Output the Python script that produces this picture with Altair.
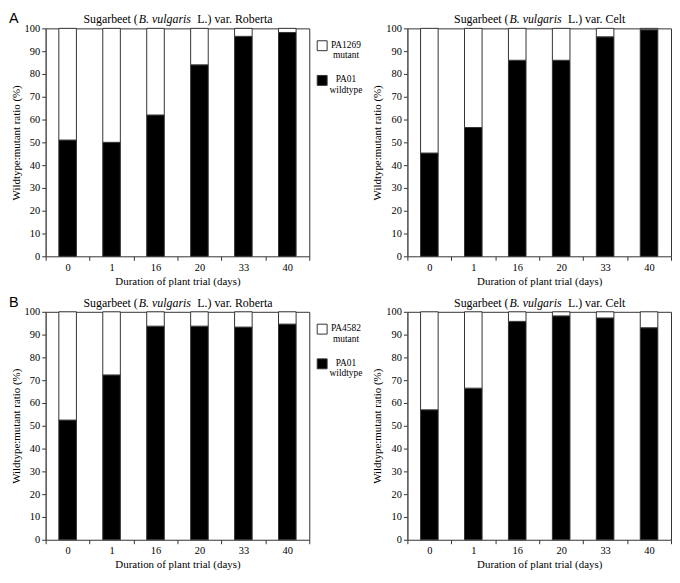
import altair as alt
import pandas as pd

days = ["0", "1", "16", "20", "33", "40"]

a_roberta_wt = [51.0, 50.0, 62.0, 84.0, 96.5, 98.2]
a_roberta_mut = [49.0, 50.0, 38.0, 16.0, 3.5, 1.8]
a_celt_wt = [45.3, 56.5, 86.0, 86.0, 96.3, 99.4]
a_celt_mut = [54.7, 43.5, 14.0, 14.0, 3.7, 0.6]

b_roberta_wt = [52.5, 72.3, 93.7, 93.7, 93.3, 94.6]
b_roberta_mut = [47.5, 27.7, 6.3, 6.3, 6.7, 5.4]
b_celt_wt = [57.0, 66.5, 95.8, 98.2, 97.3, 93.0]
b_celt_mut = [43.0, 33.5, 4.2, 1.8, 2.7, 7.0]

legend_a = ["PA1269\nmutant", "PA01\nwildtype"]
legend_b = ["PA4582\nmutant", "PA01\nwildtype"]

SERIF = "Liberation Serif"
W, H = 266, 230
series_domain = ["wildtype", "mutant"]
color_scale = alt.Scale(domain=series_domain, range=["black", "white"])


def panel(wt, mut, variety, letter=None):
    df = pd.DataFrame({
        "day": days * 2,
        "series": ["wildtype"] * 6 + ["mutant"] * 6,
        "value": wt + mut,
        "ord": [0] * 6 + [1] * 6,
    })
    bars = alt.Chart(df).mark_bar(
        width=alt.RelativeBandSize(0.4), stroke="#333", strokeWidth=1
    ).encode(
        x=alt.X("day:N", sort=days,
                scale=alt.Scale(paddingInner=0, paddingOuter=0),
                axis=alt.Axis(title="Duration of plant trial (days)", labelAngle=0,
                              tickBand="extent", domain=False)),
        y=alt.Y("value:Q", stack="zero", scale=alt.Scale(domain=[0, 100], nice=False),
                axis=alt.Axis(title="Wildtype:mutant ratio (%)",
                              values=list(range(0, 101, 10)), grid=False)),
        color=alt.Color("series:N", scale=color_scale, legend=None),
        order=alt.Order("ord:Q"),
    )
    if variety == "Roberta":
        p1, p2, p3 = 93, 94, 153
    else:
        p1, p2, p3 = 102, 103, 162
    t1 = alt.Chart(pd.DataFrame({"t": ["Sugarbeet ("]})).mark_text(
        font=SERIF, fontSize=12, align="right", baseline="alphabetic"
    ).encode(text="t:N", x=alt.value(p1), y=alt.value(-5))
    t2 = alt.Chart(pd.DataFrame({"t": ["B. vulgaris"]})).mark_text(
        font=SERIF, fontSize=12, fontStyle="italic", align="left", baseline="alphabetic"
    ).encode(text="t:N", x=alt.value(p2), y=alt.value(-5))
    t3 = alt.Chart(pd.DataFrame({"t": ["L.) var. " + variety]})).mark_text(
        font=SERIF, fontSize=12, align="left", baseline="alphabetic"
    ).encode(text="t:N", x=alt.value(p3), y=alt.value(-5))
    layers = [bars, t1, t2, t3]
    if letter:
        lt = alt.Chart(pd.DataFrame({"t": [letter]})).mark_text(
            font="Liberation Sans", fontSize=14.5, align="left", baseline="alphabetic"
        ).encode(text="t:N", x=alt.value(-37), y=alt.value(-5))
        layers.append(lt)
    return alt.layer(*layers).properties(width=W, height=H)


def legend(labels):
    df = pd.DataFrame({"series": ["mutant", "wildtype"], "label": labels})
    yenc = alt.Y("series:N", sort=["mutant", "wildtype"], axis=None,
                 scale=alt.Scale(padding=0.5))
    sq = alt.Chart(df).mark_square(size=100, stroke="#333", strokeWidth=1, opacity=1).encode(
        x=alt.value(2), y=yenc,
        color=alt.Color("series:N", scale=color_scale, legend=None),
    )
    txt = alt.Chart(df).mark_text(
        font=SERIF, fontSize=9.5, align="center", baseline="top", lineBreak="\n",
        lineHeight=10.5, dy=-6
    ).encode(x=alt.value(26), y=yenc, text="label:N")
    return alt.layer(sq, txt).properties(
        width=46, height=70, view=alt.ViewBackground(stroke="transparent")
    )


rowA = alt.hconcat(
    panel(a_roberta_wt, a_roberta_mut, "Roberta", "A"),
    legend(legend_a),
    panel(a_celt_wt, a_celt_mut, "Celt"),
    spacing=4,
)
rowB = alt.hconcat(
    panel(b_roberta_wt, b_roberta_mut, "Roberta", "B"),
    legend(legend_b),
    panel(b_celt_wt, b_celt_mut, "Celt"),
    spacing=4,
)

chart = alt.vconcat(rowA, rowB, spacing=7).properties(
    padding=0, background="white"
).configure_view(
    stroke="#333", strokeWidth=1
).configure_axis(
    labelFont=SERIF, titleFont=SERIF, labelFontSize=10.5, titleFontSize=11,
    titleFontWeight="normal", labelColor="black", titleColor="black",
    domainColor="#555", tickColor="#333", tickSize=4, labelPadding=2, titlePadding=3,
)

chart.save("out.html", embed_options={"renderer": "svg", "actions": False})
